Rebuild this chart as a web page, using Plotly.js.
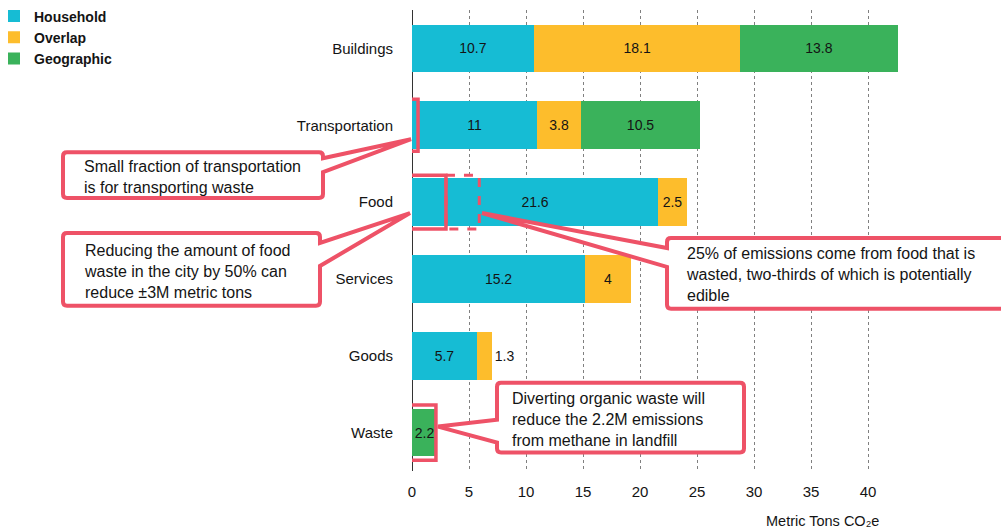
<!DOCTYPE html>
<html>
<head>
<meta charset="utf-8">
<script src="https://cdn.plot.ly/plotly-3.0.1.min.js"></script>
<style>html,body{margin:0;padding:0;background:#fff;}#chart{width:1001px;height:530px;}</style>
</head>
<body>
<div id="chart"></div>
<script>
// ---- data ----
const categories = ['Buildings', 'Transportation', 'Food', 'Services', 'Goods', 'Waste'];
const household  = [10.7, 11, 21.6, 15.2, 5.7, null];
const overlap    = [18.1, 3.8, 2.5, 4, 1.3, null];
const geographic = [13.8, 10.5, null, null, null, 2.2];
const xTickVals  = [0, 5, 10, 15, 20, 25, 30, 35, 40];
const seriesNames = ['Household', 'Overlap', 'Geographic'];
const seriesColors = ['#16BCD4', '#FDBD2C', '#3AB25B'];

const callouts = [
  'Small fraction of transportation<br>is for transporting waste',
  'Reducing the amount of food<br>waste in the city by 50% can<br>reduce ±3M metric tons',
  '25% of emissions come from food that is<br>wasted, two-thirds of which is potentially<br>edible',
  'Diverting organic waste will<br>reduce the 2.2M emissions<br>from methane in landfill'
];

// ---- layout geometry ----
const W = 1001, H = 530;
const M = {l: 412, r: 0, t: 9.5, b: 58.5, autoexpand: false};
const PW = W - M.l - M.r, PH = H - M.t - M.b;
const pxPerUnit = 11.4;
const xMax = PW / pxPerUnit;
const RED = '#EE5267';

const fx = p => (p - M.l) / PW;
const fy = p => 1 - (p - M.t) / PH;
const pt = (x, y) => fx(x).toFixed(5) + ',' + fy(y).toFixed(5);

function bubble(x0, y0, x1, y1, r, tail) {
  let d = 'M' + pt(x0 + r, y0) + ' L' + pt(x1 - r, y0) + ' Q' + pt(x1, y0) + ' ' + pt(x1, y0 + r);
  if (tail.side === 'right') d += ' L' + pt(x1, tail.a) + ' L' + pt(tail.tx, tail.ty) + ' L' + pt(x1, tail.b);
  d += ' L' + pt(x1, y1 - r) + ' Q' + pt(x1, y1) + ' ' + pt(x1 - r, y1);
  d += ' L' + pt(x0 + r, y1) + ' Q' + pt(x0, y1) + ' ' + pt(x0, y1 - r);
  if (tail.side === 'left') d += ' L' + pt(x0, tail.b) + ' L' + pt(tail.tx, tail.ty) + ' L' + pt(x0, tail.a);
  d += ' L' + pt(x0, y0 + r) + ' Q' + pt(x0, y0) + ' ' + pt(x0 + r, y0) + ' Z';
  return {type: 'path', xref: 'paper', yref: 'paper', path: d,
          fillcolor: '#ffffff', line: {color: RED, width: 4}, layer: 'above'};
}

const textColor = '#141414';
const font = 'Liberation Sans, Arial, Helvetica, sans-serif';

function barTrace(i, vals, positions) {
  return {
    type: 'bar', orientation: 'h', name: seriesNames[i],
    y: categories, x: vals,
    marker: {color: seriesColors[i], line: {width: 0}},
    width: 0.62,
    texttemplate: '%{x}',
    textposition: positions,
    insidetextanchor: 'middle',
    constraintext: 'none',
    textangle: 0,
    insidetextfont: {family: font, size: 14, color: textColor},
    outsidetextfont: {family: font, size: 14, color: textColor},
    hoverinfo: 'skip'
  };
}

const data = [
  barTrace(0, household, 'inside'),
  barTrace(1, overlap, ['inside', 'inside', 'inside', 'inside', 'outside', 'inside']),
  barTrace(2, geographic, 'inside')
];

const shapes = [
  // highlight rectangles on bars (data coordinates)
  {type: 'rect', xref: 'x', yref: 'y', x0: -0.18, x1: 0.53, y0: 1 - 0.34, y1: 1 + 0.34,
   line: {color: RED, width: 3.5}, layer: 'above'},
  {type: 'rect', xref: 'x', yref: 'y', x0: -0.18, x1: 2.98, y0: 2 - 0.35, y1: 2 + 0.35,
   line: {color: RED, width: 3.5}, layer: 'above'},
  {type: 'rect', xref: 'x', yref: 'y', x0: 2.98, x1: 5.9, y0: 2 - 0.35, y1: 2 + 0.35,
   line: {color: RED, width: 3, dash: 'dash'}, layer: 'above'},
  {type: 'rect', xref: 'x', yref: 'y', x0: -0.18, x1: 2.1, y0: 5 - 0.36, y1: 5 + 0.36,
   line: {color: RED, width: 3.5}, layer: 'above'},
  // speech bubbles
  bubble(63, 152, 323, 198, 4, {side: 'right', a: 158, b: 172, tx: 411, ty: 139}),
  bubble(63, 233, 320, 306, 4, {side: 'right', a: 243, b: 266, tx: 410, ty: 213}),
  bubble(667, 238, 1012, 309, 4, {side: 'left', a: 248, b: 267, tx: 482, ty: 213}),
  bubble(497, 383, 744, 453, 4, {side: 'left', a: 420, b: 443, tx: 438, ty: 427})
];

function calloutText(text, x, y) {
  return {xref: 'paper', yref: 'paper', x: fx(x), y: fy(y), xanchor: 'left', yanchor: 'middle',
          align: 'left', showarrow: false, text: text,
          font: {family: font, size: 16, color: textColor}};
}

const annotations = [
  calloutText(callouts[0], 82, 176.5),
  calloutText(callouts[1], 82, 271.5),
  calloutText(callouts[2], 684, 275),
  calloutText(callouts[3], 510, 420),
  {xref: 'paper', yref: 'paper', x: fx(881), y: fy(522), xanchor: 'right', yanchor: 'middle',
   showarrow: false, text: 'Metric Tons CO₂e', font: {family: font, size: 14.5, color: textColor}}
];

const layout = {
  width: W, height: H,
  margin: M,
  paper_bgcolor: '#ffffff', plot_bgcolor: '#ffffff',
  barmode: 'stack',
  showlegend: true,
  legend: {x: fx(-6), y: fy(0), xanchor: 'left', yanchor: 'top', traceorder: 'normal',
           font: {family: font, size: 14, color: textColor, weight: 'bold'},
           bgcolor: 'rgba(0,0,0,0)'},
  font: {family: font, color: textColor},
  xaxis: {
    range: [0, xMax], tickvals: xTickVals, ticktext: xTickVals.map(String),
    showgrid: true, gridcolor: '#808080', griddash: 'dot', gridwidth: 1,
    zeroline: true, zerolinecolor: '#333333', zerolinewidth: 1,
    showline: false, ticks: '', ticklabelstandoff: 10,
    tickfont: {family: font, size: 15, color: textColor}, fixedrange: true
  },
  yaxis: {
    type: 'category', categoryorder: 'array', categoryarray: categories,
    range: [5.5, -0.5], showgrid: false, zeroline: false, showline: false,
    ticks: '', ticklabelstandoff: 18,
    tickfont: {family: font, size: 15, color: textColor}, fixedrange: true
  },
  shapes: shapes,
  annotations: annotations,
  hovermode: false
};

Plotly.newPlot('chart', data, layout, {displayModeBar: false, staticPlot: true});
</script>
</body>
</html>
